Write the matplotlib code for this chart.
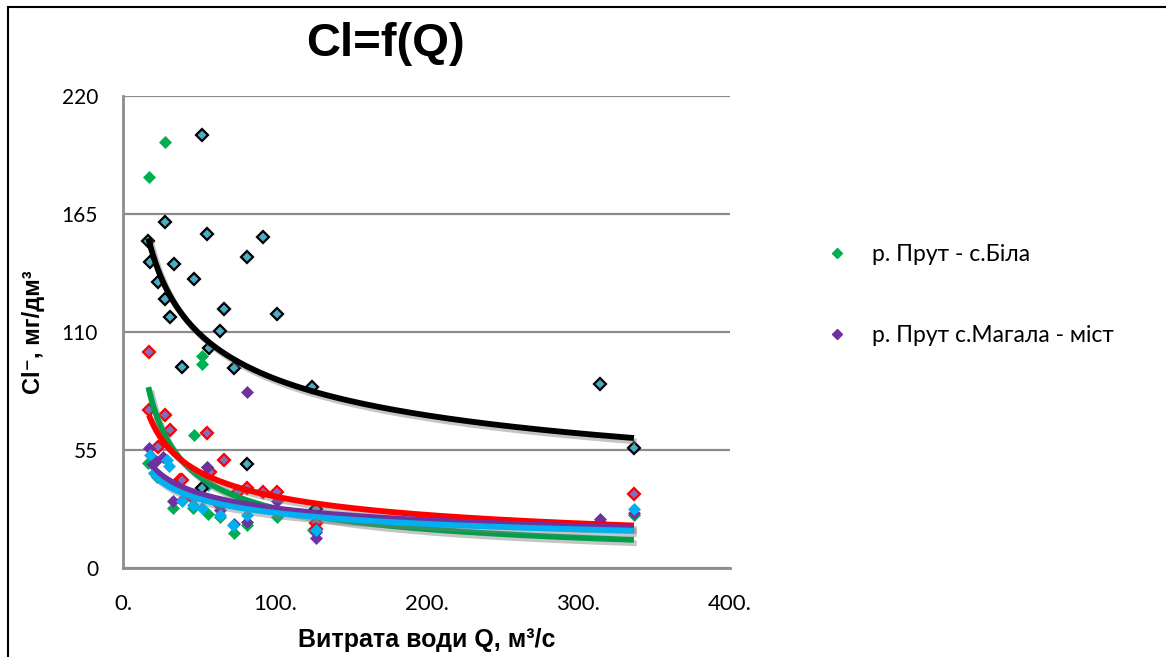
import numpy as np
import matplotlib
matplotlib.use("Agg")
import matplotlib.pyplot as plt
import matplotlib.patheffects as pe
from matplotlib.patches import Rectangle
from matplotlib.ticker import FuncFormatter

# --- data ---
x_ticks = [0, 100, 200, 300, 400]
y_ticks = [0, 55, 110, 165, 220]

# black-edged (teal fill) series
q_black = [51.8, 27.9, 55.1, 92.0, 16.7, 17.8, 33.6, 81.5, 22.9, 46.8, 27.7, 66.8,
           101.3, 31.0, 63.9, 56.7, 38.7, 73.4, 124.7, 81.5, 314.3, 336.7, 51.8, 127.0]
cl_black = [202.0, 161.4, 155.7, 154.4, 152.6, 142.5, 141.7, 145.1, 133.5, 134.6, 125.4, 120.6,
            118.6, 117.2, 110.6, 102.4, 93.6, 93.4, 84.5, 48.5, 85.8, 56.1, 37.2, 27.5]

# green series (р. Прут - с.Біла)
q_green = [27.7, 17.1, 51.8, 51.8, 46.8, 55.1, 33.2, 73.4, 22.2, 16.7, 81.5, 101.3, 125.0,
           336.7, 46.0, 56.0, 64.0]
cl_green = [198.4, 182.4, 99.0, 95.1, 61.9, 47.2, 27.8, 16.2, 42.6, 48.8, 20.0, 24.0, 17.7,
            24.7, 28.0, 25.0, 24.0]

# red-edged series
q_red = [17.1, 27.7, 31.0, 55.1, 17.1, 22.9, 66.6, 37.6, 81.5, 92.5, 101.3, 46.3, 63.9,
         127.2, 38.7, 75.8, 336.7, 57.3, 127.0, 314.3]
cl_red = [100.5, 71.3, 64.5, 62.9, 73.7, 56.6, 50.3, 41.0, 37.2, 35.6, 35.6, 32.5, 29.4,
          21.1, 41.0, 35.6, 34.3, 44.9, 18.0, 21.0]

# purple series (р. Прут с.Магала - міст)
q_purple = [81.5, 17.1, 55.1, 33.2, 38.7, 73.4, 81.5, 127.2, 101.3, 63.9, 314.3, 336.7, 26.6,
            22.0, 127.0]
cl_purple = [82.2, 55.8, 47.2, 31.0, 31.7, 20.3, 21.6, 14.1, 31.0, 27.0, 22.8, 25.5, 51.9,
             50.0, 17.0]

# light blue series
q_blue = [17.8, 28.8, 30.0, 38.7, 46.3, 51.8, 63.9, 72.7, 81.5, 56.2, 127.2, 336.7]
cl_blue = [52.7, 50.3, 47.5, 31.0, 29.4, 27.8, 24.7, 20.0, 24.7, 38.7, 17.7, 27.4]

label_green = "р. Прут - с.Біла"
label_purple = "р. Прут с.Магала - міст"

fig = plt.figure(figsize=(11.66, 6.57), dpi=100)
ax = fig.add_axes([123 / 1166, 1 - 568 / 657, (730 - 123) / 1166, (568 - 96) / 657])

# frame round the chart area (top and left visible)
fig.patches.append(Rectangle((8 / 1166, -0.1), 1.2, 1 - 7 / 657 + 0.1, transform=fig.transFigure,
                             fill=False, edgecolor="black", linewidth=1.5))

ms = 6.0
sets = [
    (q_green, cl_green, "#00B050", "#00B050", "#00A04A"),
    (q_red, cl_red, "#7F6FC0", "#FF0000", "#FF0000"),
    (q_purple, cl_purple, "#7030A0", "#7030A0", "#7030A0"),
    (q_blue, cl_blue, "#00B0F0", "#00B0F0", "#00B0F0"),
    (q_black, cl_black, "#4BACC6", "black", "black"),
]

shadow = [pe.SimpleLineShadow(offset=(2, -2.5), shadow_color="gray", alpha=0.45), pe.Normal()]

for q, c, fc, ec, lc in sets:
    ax.plot(q, c, linestyle="none", marker="D", markersize=ms, markerfacecolor=fc,
            markeredgecolor=ec, markeredgewidth=1.6 if ec != fc else 0.5, zorder=3)

# power trendlines fitted to each series
for q, c, fc, ec, lc in sets:
    q = np.array(q)
    c = np.array(c)
    b, lna = np.polyfit(np.log(q), np.log(c), 1)
    xs = np.linspace(q.min(), q.max(), 200)
    ax.plot(xs, np.exp(lna) * xs ** b, color=lc, linewidth=4.2, zorder=4,
            path_effects=shadow, solid_capstyle="butt")

ax.set_xlim(0, 400)
ax.set_ylim(0, 220)
ax.set_xticks(x_ticks)
ax.set_yticks(y_ticks)
ax.xaxis.set_major_formatter(FuncFormatter(lambda v, p: f"{int(v)}."))
ax.grid(axis="y", color="#8C8C8C", linewidth=1.6)
ax.set_axisbelow(True)
for s in ["top", "right"]:
    ax.spines[s].set_visible(False)
for s in ["left", "bottom"]:
    ax.spines[s].set_color("#8C8C8C")
    ax.spines[s].set_linewidth(2)
ax.tick_params(length=0)
ax.tick_params(axis="y", pad=18)
ax.tick_params(axis="x", pad=19)
for t in ax.get_yticklabels():
    t.set_fontfamily(["Lato", "DejaVu Sans"])
    t.set_fontsize(15)
for t in ax.get_xticklabels():
    t.set_fontfamily(["Lato", "DejaVu Sans"])
    t.set_fontsize(16)

ax.set_xlabel("Витрата води Q, м³/с", fontsize=18, fontweight="bold",
              family=["Liberation Sans", "DejaVu Sans"])
ax.xaxis.label.set_va("center")
ax.xaxis.set_label_coords(0.5, (568 - 640) / 472)
ax.set_ylabel("Cl⁻, мг/дм³", fontsize=17, fontweight="bold",
              family=["Liberation Sans", "DejaVu Sans"])
ax.yaxis.label.set_va("center")
ax.yaxis.set_label_coords((33 - 123) / 607, 0.5)

fig.text(385 / 1166, 1 - 44 / 657, "Cl=f(Q)", fontsize=34, fontweight="bold",
         family=["Liberation Sans", "DejaVu Sans"], ha="center", va="center")

leg_h = [plt.Line2D([], [], linestyle="none", marker="D", markersize=5, color="#00B050"),
         plt.Line2D([], [], linestyle="none", marker="D", markersize=5, color="#7030A0")]
fig.legend(leg_h, [label_green, label_purple], loc="center left",
           bbox_to_anchor=(826 / 1166, 1 - 295 / 657), frameon=False, labelspacing=2.6,
           handlelength=1.0, handletextpad=1.0, borderpad=0, borderaxespad=0,
           prop={"family": ["Lato", "DejaVu Sans"], "size": 16.5})

fig.savefig("out.png", dpi=100)
